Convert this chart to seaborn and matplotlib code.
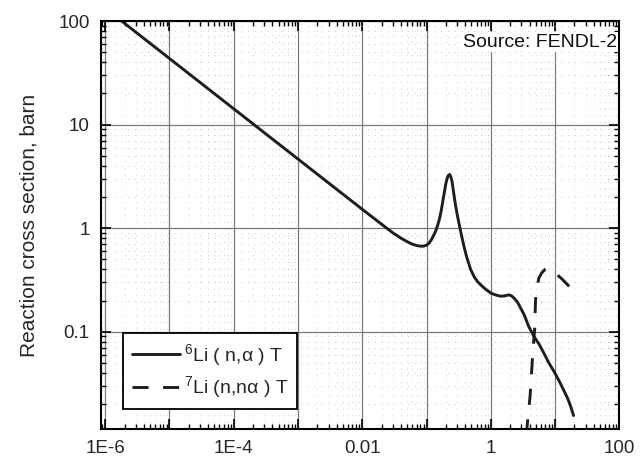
import numpy as np
import pandas as pd
import matplotlib
matplotlib.use("Agg")
import matplotlib.pyplot as plt
import seaborn as sns
from matplotlib.ticker import FixedLocator, FixedFormatter, LogLocator, NullFormatter

# ---- data (energy in MeV, cross section in barn) ----
li6_energy = [1e-6, 1e-4, 0.01, 0.02, 0.03, 0.04, 0.05, 0.06, 0.07, 0.08, 0.09,
              0.1, 0.11, 0.12, 0.13, 0.14, 0.15, 0.16, 0.17, 0.18, 0.19, 0.2,
              0.21, 0.22, 0.229, 0.24, 0.25, 0.26, 0.27, 0.28, 0.30, 0.327,
              0.35, 0.382, 0.42, 0.485, 0.55, 0.62, 0.695, 0.8, 1.0, 1.2,
              1.43, 1.65, 1.92, 2.1, 2.3, 2.6, 2.9, 3.3, 3.9, 4.7, 5.7, 6.7,
              8.0, 9.7, 12.0, 15.6, 17.5, 19.4]
li6_xs = [133, 14.2, 1.52, 1.09, 0.90, 0.80, 0.74, 0.70, 0.68, 0.67, 0.67,
          0.685, 0.72, 0.78, 0.86, 0.95, 1.08, 1.25, 1.5, 1.85, 2.25, 2.7,
          3.05, 3.25, 3.3, 3.1, 2.8, 2.35, 2.0, 1.72, 1.35, 1.04,
          0.85, 0.667, 0.53, 0.40, 0.34, 0.305, 0.284, 0.262, 0.236, 0.226,
          0.22, 0.222, 0.227, 0.222, 0.211, 0.193, 0.17, 0.146, 0.112, 0.090, 0.075, 0.062,
          0.050, 0.041, 0.032, 0.0229, 0.019, 0.0155]

li7_energy = [3.55, 3.7, 4.1, 4.55, 4.8, 4.97, 5.3, 5.6, 6.2, 7.0, 7.6, 8.5, 10.0, 13.0, 16.0, 19.5]
li7_xs = [0.010, 0.0128, 0.0246, 0.0695, 0.104, 0.204, 0.28, 0.33, 0.37, 0.40, 0.41, 0.40, 0.37, 0.32, 0.28, 0.25]

series_labels = [r"$^{6}$Li ( n,α ) T", r"$^{7}$Li (n,nα ) T"]
x_tick_values = [1e-6, 1e-5, 1e-4, 1e-3, 1e-2, 1e-1, 1, 10, 100]
x_tick_labels = ["1E-6", "", "1E-4", "", "0.01", "", "1", "", "100"]
y_tick_values = [0.1, 1, 10, 100]
y_tick_labels = ["0.1", "1", "10", "100"]
source_text = "Source: FENDL-2"
y_label = "Reaction cross section, barn"

df6 = pd.DataFrame({"E": li6_energy, "xs": li6_xs})
df7 = pd.DataFrame({"E": li7_energy, "xs": li7_xs})

sns.set_theme(style="ticks")
plt.rcParams["font.family"] = ["Liberation Sans", "DejaVu Sans"]
plt.rcParams["mathtext.fontset"] = "custom"
plt.rcParams["mathtext.rm"] = "Liberation Sans"
plt.rcParams["mathtext.it"] = "Liberation Sans:italic"

fig = plt.figure(figsize=(6.43, 4.57), dpi=100)
ax = fig.add_axes([0.1566, 0.0613, 0.8066, 0.8927])

line_color = "#1e1e1e"
sns.lineplot(data=df6, x="E", y="xs", ax=ax, color=line_color, lw=2.1,
             estimator=None, sort=False, label=series_labels[0])
sns.lineplot(data=df7, x="E", y="xs", ax=ax, color=line_color, lw=2.1,
             estimator=None, sort=False, label=series_labels[1],
             linestyle=(0, (5.5, 5)))

ax.set_xscale("log")
ax.set_yscale("log")
ax.set_xlim(8.5e-7, 100)
ax.set_ylim(0.0115, 100)

ax.xaxis.set_major_locator(FixedLocator(x_tick_values))
ax.xaxis.set_major_formatter(FixedFormatter(x_tick_labels))
ax.xaxis.set_minor_locator(LogLocator(base=10, subs=np.arange(2, 10), numticks=20))
ax.xaxis.set_minor_formatter(NullFormatter())
ax.yaxis.set_major_locator(FixedLocator(y_tick_values))
ax.yaxis.set_major_formatter(FixedFormatter(y_tick_labels))
ax.yaxis.set_minor_locator(LogLocator(base=10, subs=np.arange(2, 10), numticks=20))
ax.yaxis.set_minor_formatter(NullFormatter())

ax.tick_params(which="both", direction="in", top=True, right=True, color="black")
ax.tick_params(which="major", length=7, width=1.2, labelsize=13.5, pad=8)
ax.tick_params(which="minor", length=3.5, width=1.0)

ax.grid(which="major", color="#7a7a7a", lw=0.9, ls="-")
ax.grid(which="minor", color="#bcbcbc", lw=0.6, ls=(0, (1, 7)))
ax.set_axisbelow(True)

for sp in ax.spines.values():
    sp.set_color("black")
    sp.set_linewidth(1.5)

ax.set_xlabel("")
ax.set_ylabel(y_label, fontsize=15, labelpad=14)

ax.text(0.995, 0.948, source_text, transform=ax.transAxes, ha="right",
        va="center", fontsize=14, color="#111111",
        bbox=dict(facecolor="white", edgecolor="none", pad=1))

leg = ax.legend(loc="lower left", bbox_to_anchor=(0.043, 0.049), borderaxespad=0,
                fontsize=14, frameon=True, fancybox=False, framealpha=1,
                edgecolor="black", handlelength=2.5, handletextpad=0.2,
                borderpad=0.45, labelspacing=0.35)
leg.get_frame().set_linewidth(1.3)

fig.savefig("out.png", dpi=100)
